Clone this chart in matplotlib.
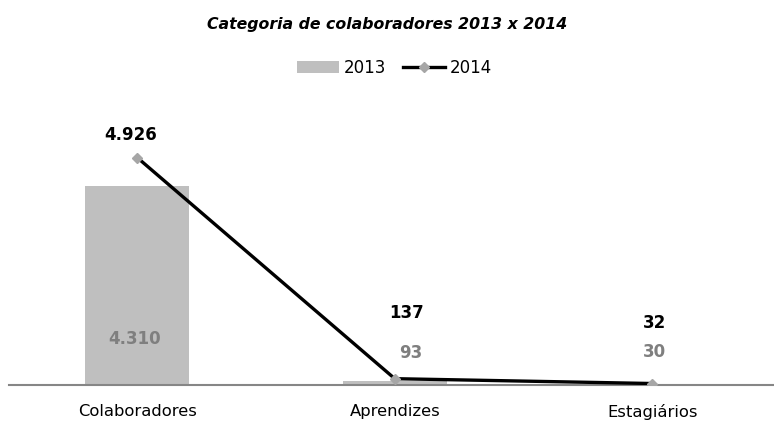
import matplotlib.pyplot as plt
import numpy as np

plt.rcParams['font.family'] = ['DejaVu Sans']

# data
categorias = ["Colaboradores", "Aprendizes", "Estagiários"]
valores_2013 = [4310, 93, 30]
valores_2014 = [4926, 137, 32]
rotulos_2013 = ["4.310", "93", "30"]
rotulos_2014 = ["4.926", "137", "32"]

x = np.arange(len(categorias))

fig = plt.figure(figsize=(7.74, 4.22), dpi=100)
ax = fig.add_axes([8.5 / 774, 37 / 422, 772.5 / 774, 277 / 422])

ax.bar(x, valores_2013, width=0.404, color='#bfbfbf', label='2013', zorder=1)
ax.plot(x, valores_2014, color='black', lw=2.4, marker='D', markersize=5.5,
        markerfacecolor='#a6a6a6', markeredgecolor='#a6a6a6', label='2014', zorder=3)

# rotulos 2013 (cinza)
offs_2013 = [(-3, 46), (16, 32), (2, 33)]
for xi, txt, (dx, dy) in zip(x, rotulos_2013, offs_2013):
    ax.annotate(txt, (xi, 0), xytext=(dx, dy), textcoords='offset pixels',
                ha='center', va='center', fontsize=12, fontweight='bold', color='#7f7f7f')

# rotulos 2014 (preto)
offs_2014 = [(-7, 23), (12, 66), (2, 61)]
for xi, v, txt, (dx, dy) in zip(x, valores_2014, rotulos_2014, offs_2014):
    ax.annotate(txt, (xi, v), xytext=(dx, dy), textcoords='offset pixels',
                ha='center', va='center', fontsize=12, fontweight='bold', color='black')

ax.set_xlim(-0.5, 2.5)
ax.set_ylim(0, 6000)
ax.set_yticks([])
ax.set_xticks(x)
ax.set_xticklabels(categorias, fontsize=11.8)
ax.tick_params(axis='x', length=0, pad=14)
for s in ['top', 'right', 'left']:
    ax.spines[s].set_visible(False)
ax.spines['bottom'].set_color('#868686')
ax.spines['bottom'].set_linewidth(1.5)

fig.text(0.5, 1 - 25 / 422, "Categoria de colaboradores 2013 x 2014", ha='center', va='center',
         fontsize=11.3, fontweight='bold', fontstyle='italic')

handles, labels = ax.get_legend_handles_labels()
order = [labels.index('2013'), labels.index('2014')]
fig.legend([handles[i] for i in order], [labels[i] for i in order],
           loc='center', bbox_to_anchor=(394.5 / 774, 1 - 68 / 422), ncol=2, frameon=False,
           fontsize=12, handlelength=2.5, handletextpad=0.3, columnspacing=1.0)

fig.savefig('out.png', dpi=100)
